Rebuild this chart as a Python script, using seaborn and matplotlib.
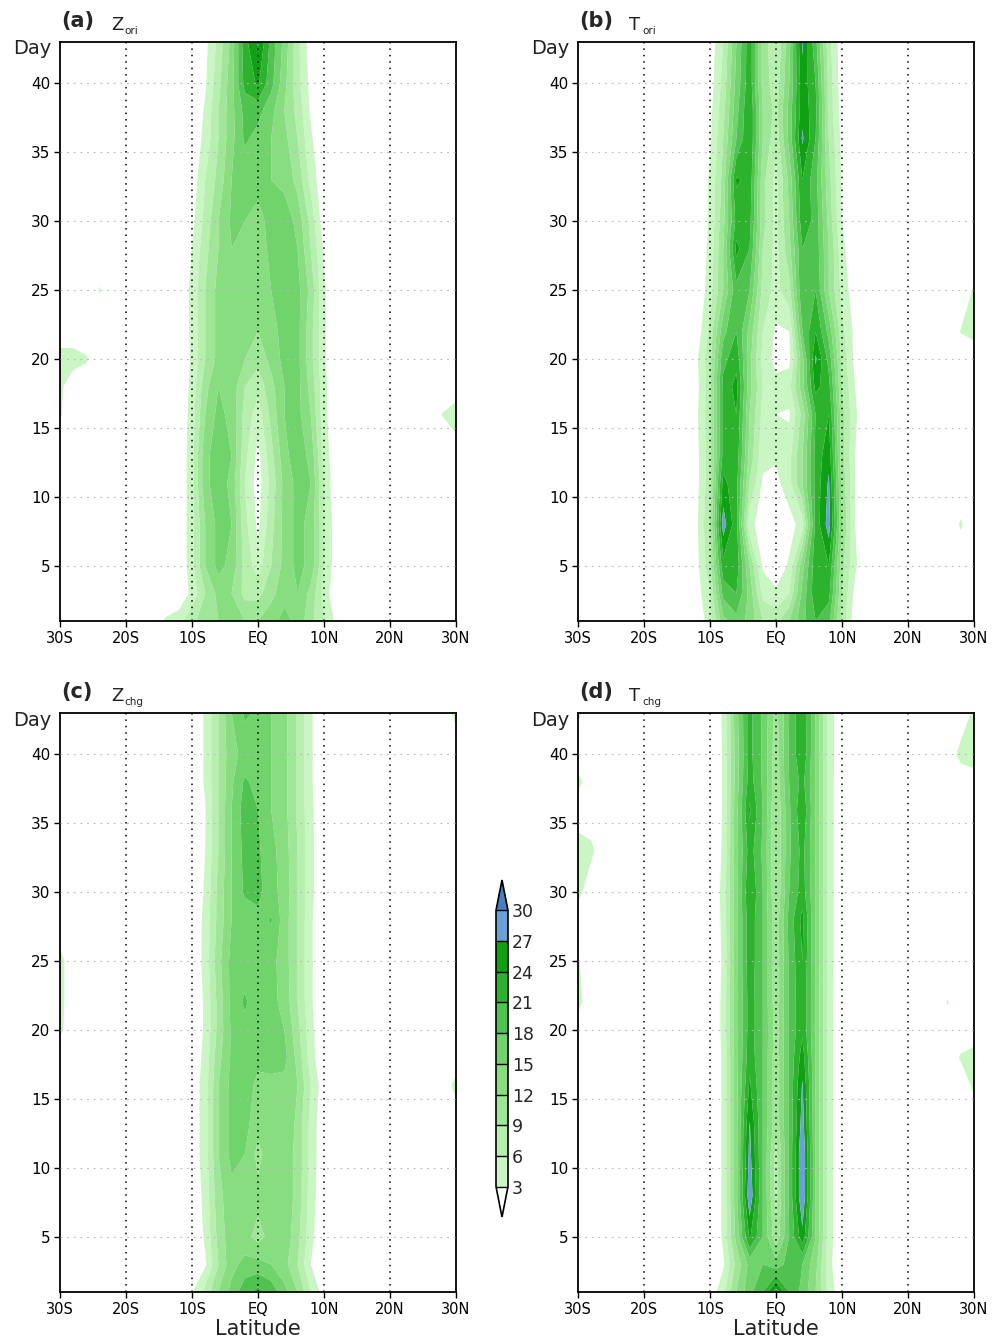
import numpy as np
import matplotlib
matplotlib.use("Agg")
import matplotlib.pyplot as plt
from matplotlib.colors import ListedColormap, BoundaryNorm
import seaborn as sns

sns.set_theme(style="ticks")
plt.rcParams['font.family'] = ['DejaVu Sans']

# ---------------- data ----------------
days = [1, 3, 5, 8, 11, 13, 16, 18, 20, 22, 25, 28, 30, 33, 36, 38, 40, 43]
band_lats = [-14, -12, -10, -8, -6, -4, -2, 0, 2, 4, 6, 8, 10, 12, 14]
grid_lats = list(range(-30, 31, 2))
levels = [3, 6, 9, 12, 15, 18, 21, 24, 27, 30]
level_colors = ['#c9f6c2', '#b6efae', '#a0e698', '#88dd80', '#70d36c',
                '#50c250', '#2cb22c', '#10a014', '#6b9fd6']
under_color = '#ffffff'
over_color = '#4a7dc0'
x_ticks = [-30, -20, -10, 0, 10, 20, 30]
x_ticklabels = ['30S', '20S', '10S', 'EQ', '10N', '20N', '30N']
y_ticks = [5, 10, 15, 20, 25, 30, 35, 40]

# (a) Z_ori
z_ori = [
    [3.5, 5, 8, 11, 12, 13, 12, 12, 14, 16, 14, 10, 6, 2, 0],
    [0, 0, 4, 9, 13, 12, 8, 8, 11, 14, 15, 11, 5, 0, 0],
    [0, 0, 5, 12, 16, 14, 8, 4.5, 9, 13, 16, 14, 6, 1, 0],
    [0, 0, 5, 12, 16, 15, 7, 2.3, 8, 13, 16, 14, 6, 1, 0],
    [0, 0, 5, 14, 17, 14, 6, 1.5, 7, 13, 16, 15, 6, 0, 0],
    [0, 0, 5, 14, 17, 15, 7, 2, 8, 14, 17, 14, 5, 0, 0],
    [0, 0, 4.5, 12, 16, 14, 8, 4.5, 10, 15, 16, 12, 4, 0, 0],
    [0, 0, 4, 11, 15, 14, 9, 7, 11, 15, 16, 11, 4, 0, 0],
    [0, 0, 3.5, 9, 13, 14, 12, 10, 13, 16, 16, 10, 3.5, 0, 0],
    [0, 0, 3.8, 9, 13, 15, 13, 12, 14, 16, 16, 10, 3.5, 0, 0],
    [0, 0, 4, 9, 13, 15, 13, 13, 15, 17, 16, 11, 3.5, 0, 0],
    [0, 0, 3, 8, 12, 15, 15, 13, 16, 17, 15, 9, 2.5, 0, 0],
    [0, 0, 2, 7, 12, 15.5, 15, 14, 16, 17, 14, 8, 1, 0, 0],
    [0, 0, 1, 6, 10, 15, 16, 16, 15, 14, 11, 5, 0.5, 0, 0],
    [0, 0, 0.5, 4, 9, 14, 18.5, 17, 15, 13, 9, 3.5, 0, 0, 0],
    [0, 0, 0, 3.5, 9, 14, 19, 19, 16, 12, 8, 2.5, 0, 0, 0],
    [0, 0, 0, 2.5, 8, 14, 22, 24.5, 19, 13, 7, 2, 0, 0, 0],
    [0, 0, 0, 2, 7, 13, 23, 27.3, 20, 14, 7, 1, 0, 0, 0],
]
z_ori_patch_lat = [-30, -28, -26, -30, -30, -24, 30, 28]
z_ori_patch_day = [20, 20, 20, 18, 16, 25, 16, 16]
z_ori_patch_val = [5, 5, 3.5, 4, 3.5, 3.3, 5.5, 3.2]

# (b) T_ori
t_ori = [
    [0, 0, 5, 14, 17, 14, 9, 8, 12, 17, 21, 19, 8, 1, 0],
    [0, 1.5, 6, 19, 21, 14, 5, 3.5, 6, 16, 23, 22, 9, 2, 0],
    [0, 2, 8, 23, 23, 12, 2.5, 1, 3.5, 14, 23, 24, 10, 3.5, 0],
    [0, 2.5, 9, 28.5, 22, 4, 1.5, 0.5, 1.5, 4.5, 22, 28.5, 12, 3, 0],
    [0, 2, 8, 25, 22, 9, 2.5, 2, 5, 12, 22, 27.5, 11, 3, 0],
    [0, 2, 8, 22, 23, 11, 4, 3.5, 5, 12, 22, 26, 10, 3, 0],
    [0, 2.5, 8, 22, 24, 12, 5, 3, 2.5, 10, 21, 24, 10, 3.5, 0],
    [0, 2, 8, 22, 25, 13, 6, 4, 5, 14, 25, 22, 9, 3, 0],
    [0, 2.5, 8, 20, 23, 13, 5, 2, 2, 14, 27.5, 20, 8, 2, 0],
    [0, 1, 7, 17, 21, 14, 6, 2.5, 3, 18, 24, 17, 7, 2, 0],
    [0, 0.5, 4.5, 12, 20, 18, 8, 5, 8, 21, 21, 12, 5, 1, 0],
    [0, 0, 4, 12, 25, 21, 9, 5, 11, 21, 20, 12, 4, 0, 0],
    [0, 0, 3.5, 11, 22, 22, 10, 5, 12, 23, 20, 11, 3, 0, 0],
    [0, 0, 3.5, 10, 24.5, 23, 10, 5, 13, 24, 19, 10, 2.5, 0, 0],
    [0, 0, 2.5, 9, 18, 24, 12, 7, 16, 27.5, 21, 9, 2, 0, 0],
    [0, 0, 2, 8, 17, 24, 12, 8, 16, 26, 22, 8, 1.5, 0, 0],
    [0, 0, 1.5, 7, 16, 23, 11, 7, 15, 26, 21, 8, 1, 0, 0],
    [0, 0, 1, 6, 15, 23, 11, 6, 14, 27.5, 19, 7, 1, 0, 0],
]
t_ori_patch_lat = [30, 28, 30, 28, -30]
t_ori_patch_day = [22, 22, 25, 8, 18]
t_ori_patch_val = [4.5, 3.2, 3.5, 3.5, 3.2]

# (c) Z_chg
z_chg = [
    [0, 0, 2.8, 7, 12, 16, 20, 22, 20, 16, 12, 6, 1.5, 0, 0],
    [0, 0, 0, 2.5, 9, 14, 16, 16, 15, 13, 9, 3, 0, 0, 0],
    [0, 0, 0, 3.5, 10, 14, 13, 11, 13, 14, 10, 4, 0, 0, 0],
    [0, 0, 0.5, 4, 11, 14, 14, 13, 14, 14, 11, 4.5, 0.5, 0, 0],
    [0, 0, 1, 4.5, 12, 16, 15, 11, 14, 14, 11, 5, 0.5, 0, 0],
    [0, 0, 1, 4.5, 12, 16, 16, 13, 14, 15, 11, 5, 0.5, 0, 0],
    [0, 0, 1, 4.5, 12, 16, 17, 14, 14, 14, 12, 6, 1, 0, 0],
    [0, 0, 0.5, 4, 11, 15.5, 16.5, 16, 16.5, 16, 11, 4.5, 0, 0, 0],
    [0, 0, 0.5, 3.5, 10, 15.5, 17, 16.5, 16, 15, 10, 4, 0, 0, 0],
    [0, 0, 0.5, 3.5, 10, 16, 18.5, 16, 16, 14, 9, 3.5, 0, 0, 0],
    [0, 0, 0.5, 4, 11, 16, 16.5, 16, 16, 13.5, 9, 3.5, 0, 0, 0],
    [0, 0, 0, 4, 10, 15, 16, 17, 18.3, 13.5, 9, 3.5, 0, 0, 0],
    [0, 0, 0, 3.5, 10, 15, 18.5, 19, 16, 14, 9, 4, 0, 0, 0],
    [0, 0, 0, 3, 9, 15, 19, 18.5, 16, 13.5, 9, 4, 0, 0, 0],
    [0, 0, 0, 2.8, 9, 15, 19.5, 18, 15, 13, 8.5, 3.8, 0, 0, 0],
    [0, 0, 0, 3.5, 9, 14.5, 18.5, 17, 15, 13, 8.5, 3.5, 0, 0, 0],
    [0, 0, 0, 3.5, 9, 14, 16, 16, 15, 13, 8.5, 3.5, 0, 0, 0],
    [0, 0, 0, 3.5, 9, 15, 18.5, 17.5, 15, 13, 8.5, 3.5, 0, 0, 0],
]
z_chg_patch_lat = [-30, -30, -30, 30, 30]
z_chg_patch_day = [20, 22, 25, 43, 16]
z_chg_patch_val = [4, 4.5, 4.5, 4.5, 4.5]

# (d) T_chg
t_chg = [
    [0, 0, 1, 5, 12, 17, 21, 28.5, 21, 17, 12, 5, 0.5, 0, 0],
    [0, 0, 0, 2.5, 10, 16, 18, 16, 19.5, 18, 13, 4, 0, 0, 0],
    [0, 0, 0, 3.5, 13, 24.5, 18, 10, 18, 26, 15, 4.5, 0, 0, 0],
    [0, 0, 0, 3.5, 14, 29.5, 18, 8, 18.5, 30, 15, 4.5, 0, 0, 0],
    [0, 0, 0, 3.5, 14, 28, 18, 8, 18.5, 30, 15, 4.5, 0, 0, 0],
    [0, 0, 0, 3.5, 14, 27.3, 18, 10, 18.5, 28.5, 15, 4.5, 0, 0, 0],
    [0, 0, 0, 3.5, 14, 24.5, 18, 10, 18.5, 27.3, 15, 4.5, 0, 0, 0],
    [0, 0, 0, 3.5, 14, 23, 18, 10, 18.5, 25.5, 15, 4.5, 0, 0, 0],
    [0, 0, 0, 3.8, 14, 22.5, 18, 10.5, 18.5, 23.5, 15, 4.5, 0, 0, 0],
    [0, 0, 0, 3.8, 14, 22.5, 18, 10, 18.5, 23.5, 15, 4.5, 0, 0, 0],
    [0, 0, 0, 3.5, 14, 23, 18, 10, 18.5, 24, 15, 4.8, 0, 0, 0],
    [0, 0, 0, 3.8, 14, 23, 18, 10, 19, 25, 15, 4.8, 0, 0, 0],
    [0, 0, 0, 4, 14, 24, 18, 9, 18, 22.5, 15, 4.8, 0, 0, 0],
    [0, 0, 0, 3.5, 14, 22.5, 17.5, 9, 17.5, 22, 15, 4.8, 0, 0, 0],
    [0, 0, 0, 3.3, 14, 24.5, 18, 9, 17.5, 23.5, 15, 4.8, 0, 0, 0],
    [0, 0, 0, 3.3, 13.5, 22.5, 17.5, 10, 18, 22, 15, 4.8, 0, 0, 0],
    [0, 0, 0, 3.3, 13.5, 22, 17.5, 10, 18.5, 23.5, 15, 5, 0, 0, 0],
    [0, 0, 0, 3.5, 14, 22, 17.5, 11, 18, 24, 15, 5, 0, 0, 0],
]
t_chg_patch_lat = [-30, -30, -28, -30, -30, -30, -30, 30, 28, 30, 30, 28, 30, 26]
t_chg_patch_day = [30, 33, 33, 38, 22, 25, 43, 40, 40, 43, 18, 18, 16, 22]
t_chg_patch_val = [4.5, 5.5, 4, 4.5, 4.5, 3.5, 4, 6, 4.5, 4, 5, 3.5, 4, 3.3]


def build_field(band, plat, pday, pval):
    field = np.zeros((len(days), len(grid_lats)))
    i0 = grid_lats.index(band_lats[0])
    field[:, i0:i0 + len(band_lats)] = np.array(band, dtype=float)
    for la, d, v in zip(plat, pday, pval):
        field[days.index(d), grid_lats.index(la)] = v
    return field


cmap = ListedColormap(sns.color_palette(level_colors))
cmap.set_under(under_color)
cmap.set_over(over_color)
norm = BoundaryNorm(levels, cmap.N)

W, H = 1003, 1340
fig = plt.figure(figsize=(W / 100, H / 100), dpi=100)
fig.patch.set_facecolor('white')

panels = [
    ('(a)', 'Z', 'ori', build_field(z_ori, z_ori_patch_lat, z_ori_patch_day, z_ori_patch_val), 60, 42, False),
    ('(b)', 'T', 'ori', build_field(t_ori, t_ori_patch_lat, t_ori_patch_day, t_ori_patch_val), 578, 42, False),
    ('(c)', 'Z', 'chg', build_field(z_chg, z_chg_patch_lat, z_chg_patch_day, z_chg_patch_val), 60, 713, True),
    ('(d)', 'T', 'chg', build_field(t_chg, t_chg_patch_lat, t_chg_patch_day, t_chg_patch_val), 578, 713, True),
]

aw, ah = 396, 579
cs = None
for lab, var, sub, field, x0, y0, xlab in panels:
    ax = fig.add_axes([x0 / W, 1 - (y0 + ah) / H, aw / W, ah / H])
    cs = ax.contourf(grid_lats, days, field, levels=levels, cmap=cmap,
                     norm=norm, extend='both', antialiased=True)
    ax.set_xlim(-30, 30)
    ax.set_ylim(1, 43)
    for d in y_ticks:
        ax.axhline(d, color='#b8b8b8', lw=0.8, ls=(0, (1.5, 4.5)), zorder=3)
    for xl in [-20, -10, 0, 10, 20]:
        ax.axvline(xl, color='black', lw=1.1, ls=(0, (1, 3.2)), zorder=3)
    ax.set_xticks(x_ticks)
    ax.set_xticklabels(x_ticklabels, fontsize=10.5)
    ax.set_yticks(y_ticks)
    ax.set_yticklabels([str(v) for v in y_ticks], fontsize=11)
    ax.tick_params(axis='both', direction='out', length=4, width=1,
                   color='black', pad=3, labelcolor='black')
    for sp in ax.spines.values():
        sp.set_visible(True)
        sp.set_color('black')
        sp.set_linewidth(1.3)
    ax.grid(False)
    # labels
    fig.text((x0 + 1) / W, 1 - (y0 - 21) / H, lab, fontsize=15,
             fontweight='bold', va='center', ha='left')
    fig.text((x0 + 51) / W, 1 - (y0 - 17) / H, var, fontsize=13,
             va='center', ha='left', color='#222222')
    fig.text((x0 + 64) / W, 1 - (y0 - 11) / H, sub, fontsize=7.5,
             va='center', ha='left', color='#222222')
    fig.text((x0 - 47) / W, 1 - (y0 + 7) / H, 'Day', fontsize=14,
             va='center', ha='left', color='#222222')
    if xlab:
        fig.text((x0 + aw / 2) / W, 1 - (y0 + ah + 37) / H, 'Latitude',
                 fontsize=15, va='center', ha='center', color='#222222')

cax = fig.add_axes([496 / W, 1 - 1217 / H, 12 / W, 337 / H])
cb = fig.colorbar(cs, cax=cax, orientation='vertical', ticks=levels,
                  extendfrac=0.11, drawedges=True)
cb.outline.set_edgecolor('black')
cb.outline.set_linewidth(1.2)
cb.dividers.set_color('black')
cb.dividers.set_linewidth(1.0)
cb.ax.set_yticklabels([str(v) for v in levels], fontsize=12.5)
cb.ax.tick_params(length=0, pad=3)

fig.savefig('out.png', dpi=100, facecolor='white')
